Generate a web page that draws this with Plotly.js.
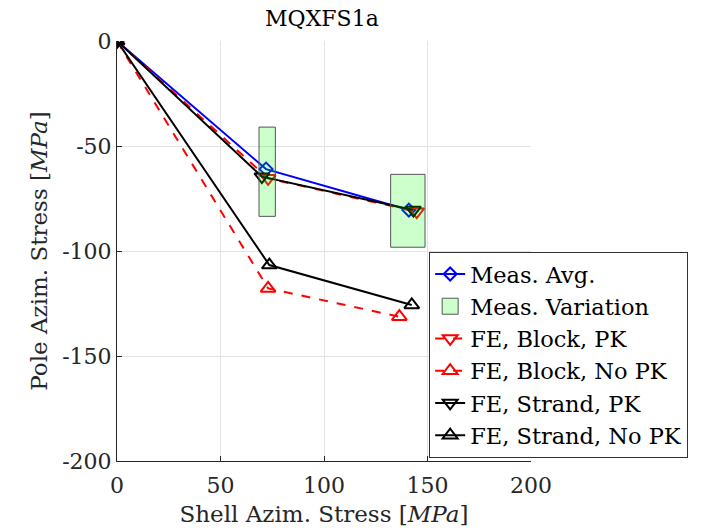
<!DOCTYPE html>
<html><head><meta charset="utf-8">
<script src="https://cdn.plot.ly/plotly-3.0.1.min.js"></script>
<style>html,body{margin:0;padding:0;background:#fff}</style>
</head><body>
<div id="chart" style="width:702px;height:528px"></div>
<script>
// Data
const measAvgX = [0, 72, 141];
const measAvgY = [0, -61, -80.5];
const varRect1X = [68.6, 76.5];
const varRect1Y = [-41, -83.5];
const varRect2X = [132.2, 148.8];
const varRect2Y = [-63.5, -98.2];
const blockPkX = [0, 73, 144.8];
const blockPkY = [0, -65.4, -81.3];
const blockNoPkX = [0, 73, 136.4];
const blockNoPkY = [0, -117.8, -131.3];
const strandPkX = [0, 70, 143.2];
const strandPkY = [0, -64.6, -80.5];
const strandNoPkX = [0, 73.6, 142.4];
const strandNoPkY = [0, -106.7, -125.7];
const xTicks = [0, 50, 100, 150, 200];
const xTickText = ["0", "50", "100", "150", "200"];
const yTicks = [0, -50, -100, -150, -200];
const yTickText = ["0", "-50", "-100", "-150", "-200"];

function rectPath(xs, ys) {
  return {
    x: [xs[0], xs[1], xs[1], xs[0], xs[0]],
    y: [ys[0], ys[0], ys[1], ys[1], ys[0]]
  };
}
const r1 = rectPath(varRect1X, varRect1Y);
const r2 = rectPath(varRect2X, varRect2Y);
const rx = r1.x.concat([null], r2.x);
const ry = r1.y.concat([null], r2.y);

const mk = (sym, col, sz) => ({symbol: sym, size: sz, color: col, line: {color: col, width: 2}});

const traces = [
  {x: measAvgX, y: measAvgY, mode: 'lines+markers', name: 'Meas. Avg.',
   line: {color: '#0000ff', width: 2}, marker: mk('diamond-open', '#0000ff', 10), legendrank: 1},
  {x: blockPkX, y: blockPkY, mode: 'lines+markers', name: 'FE, Block, PK',
   line: {color: '#ff0000', width: 2, dash: 'dash'}, marker: mk('triangle-down-open', '#ff0000', 13), legendrank: 3},
  {x: blockNoPkX, y: blockNoPkY, mode: 'lines+markers', name: 'FE, Block, No PK',
   line: {color: '#ff0000', width: 2, dash: 'dash'}, marker: mk('triangle-up-open', '#ff0000', 13), legendrank: 4},
  {x: strandPkX, y: strandPkY, mode: 'lines+markers', name: 'FE, Strand, PK',
   line: {color: '#000000', width: 2}, marker: mk('triangle-down-open', '#000000', 13), legendrank: 5},
  {x: strandNoPkX, y: strandNoPkY, mode: 'lines+markers', name: 'FE, Strand, No PK',
   line: {color: '#000000', width: 2}, marker: mk('triangle-up-open', '#000000', 13), legendrank: 6},
  {x: rx, y: ry, mode: 'lines', fill: 'toself', name: 'Meas. Variation', showlegend: false,
   fillcolor: 'rgba(0,255,0,0.2)', line: {color: '#555555', width: 1}},
  {x: [null], y: [null], mode: 'markers', name: 'Meas. Variation', legendrank: 2,
   marker: {symbol: 'square', size: 22, color: '#ccffcc', line: {color: '#555555', width: 1}}}
];

const font = "'DejaVu Serif', serif";
const layout = {
  width: 702, height: 528,
  margin: {l: 117, r: 171, t: 41, b: 67},
  paper_bgcolor: '#fff', plot_bgcolor: '#fff',
  font: {family: font, size: 22, color: '#262626'},
  title: {text: 'MQXFS1a', x: 0.495, xanchor: 'center', xref: 'paper', yref: 'container', y: 0.965, yanchor: 'middle', font: {family: font, size: 22, color: '#000'}},
  showlegend: true,
  legend: {x: 0.754, y: 0.498, xanchor: 'left', yanchor: 'top', bgcolor: '#fff',
    bordercolor: '#333', borderwidth: 1, font: {family: font, size: 22.5, color: '#000'},
    tracegroupgap: 0, itemwidth: 30},
  xaxis: {range: [0, 200], tickvals: xTicks, ticktext: xTickText, ticks: 'inside', ticklen: 5,
    tickcolor: '#262626', showline: true, linecolor: '#262626', linewidth: 1, mirror: false,
    showgrid: true, gridcolor: '#e3e3e3', zeroline: false, automargin: false, ticklabelstandoff: 5,
    title: {text: 'Shell Azim. Stress [<i>MPa</i>]', standoff: 8, font: {family: font, size: 23, color: '#262626'}}},
  yaxis: {range: [-200, 0], tickvals: yTicks, ticktext: yTickText, ticks: 'inside', ticklen: 5,
    tickcolor: '#262626', showline: true, linecolor: '#262626', linewidth: 1, mirror: false,
    showgrid: true, gridcolor: '#e3e3e3', zeroline: false, automargin: false,
    title: {text: 'Pole Azim. Stress [<i>MPa</i>]', standoff: 8, font: {family: font, size: 23, color: '#262626'}}}
};
Plotly.newPlot('chart', traces, layout, {displayModeBar: false, staticPlot: true});
</script>
</body></html>
